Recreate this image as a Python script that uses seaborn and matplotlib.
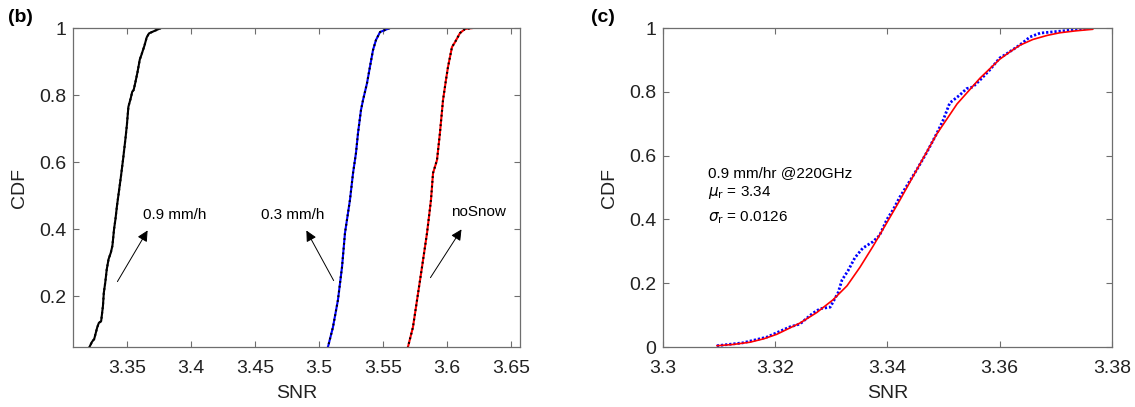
import numpy as np
import pandas as pd
import matplotlib
matplotlib.use('Agg')
import matplotlib.pyplot as plt
import seaborn as sns

# --- data ---
# 0.9 mm/hr @220GHz measured CDF (used in both panels)
snr_09 = [3.3096, 3.3142, 3.3185, 3.3226, 3.3244, 3.3267, 3.3280, 3.3298, 3.3312, 3.3319,
          3.3330, 3.3342, 3.3356, 3.3374, 3.3386, 3.3399, 3.3410, 3.3422, 3.3452, 3.3470,
          3.3488, 3.3499, 3.3511, 3.3529, 3.3541, 3.3552, 3.3565, 3.3582, 3.3600, 3.3613,
          3.3636, 3.3654, 3.3672, 3.3707, 3.3766]
cdf_09 = [0.004, 0.013, 0.031, 0.063, 0.072, 0.106, 0.120, 0.125, 0.170, 0.210,
          0.240, 0.280, 0.310, 0.330, 0.350, 0.400, 0.430, 0.470, 0.555, 0.610,
          0.670, 0.710, 0.765, 0.790, 0.810, 0.815, 0.837, 0.868, 0.906, 0.920,
          0.947, 0.972, 0.984, 0.990, 1.000]

# fitted curve in panel (c)
snr_fit = [3.3096, 3.3125, 3.3155, 3.3180, 3.3203, 3.3244, 3.3274, 3.3303, 3.3328, 3.3351,
           3.3374, 3.3399, 3.3422, 3.3452, 3.3488, 3.3524, 3.3565, 3.3600, 3.3618, 3.3636,
           3.3659, 3.3685, 3.3707, 3.3735, 3.3766]
cdf_fit = [0.004, 0.008, 0.015, 0.026, 0.040, 0.075, 0.108, 0.148, 0.192, 0.250,
           0.315, 0.390, 0.460, 0.555, 0.668, 0.762, 0.843, 0.902, 0.925, 0.946,
           0.964, 0.977, 0.985, 0.991, 0.996]

# 0.3 mm/h
snr_03 = [3.5050, 3.5070, 3.5109, 3.5148, 3.5180, 3.5203, 3.5242, 3.5266, 3.5289, 3.5305,
          3.5328, 3.5344, 3.5375, 3.5398, 3.5422, 3.5445, 3.5477, 3.5555]
cdf_03 = [0.030, 0.048, 0.107, 0.188, 0.287, 0.388, 0.487, 0.567, 0.627, 0.687,
          0.755, 0.785, 0.835, 0.884, 0.934, 0.964, 0.988, 1.000]

# noSnow
snr_ns = [3.5680, 3.5695, 3.5734, 3.5766, 3.5805, 3.5844, 3.5875, 3.5891, 3.5922, 3.5945,
          3.5969, 3.5992, 3.6008, 3.6039, 3.6063, 3.6102, 3.6141, 3.6203]
cdf_ns = [0.030, 0.048, 0.107, 0.188, 0.287, 0.388, 0.487, 0.567, 0.606, 0.687,
          0.785, 0.845, 0.884, 0.943, 0.958, 0.985, 0.997, 1.000]

xticks_b = [3.35, 3.40, 3.45, 3.50, 3.55, 3.60, 3.65]
xlabels_b = ['3.35', '3.4', '3.45', '3.5', '3.55', '3.6', '3.65']
yticks_b = [0.2, 0.4, 0.6, 0.8, 1.0]
ylabels_b = ['0.2', '0.4', '0.6', '0.8', '1']
xticks_c = [3.30, 3.32, 3.34, 3.36, 3.38]
xlabels_c = ['3.3', '3.32', '3.34', '3.36', '3.38']
yticks_c = [0, 0.2, 0.4, 0.6, 0.8, 1.0]
ylabels_c = ['0', '0.2', '0.4', '0.6', '0.8', '1']

sns.set_style('ticks')
plt.rcParams['font.family'] = ['Liberation Sans', 'DejaVu Sans']
plt.rcParams['xtick.direction'] = 'in'
plt.rcParams['ytick.direction'] = 'in'

TXT = '#222222'
SPINE = '#6e6e6e'

fig = plt.figure(figsize=(11.35, 4.07), dpi=100)
ax_b = fig.add_axes([0.0643, 0.1474, 0.3938, 0.7838])
ax_c = fig.add_axes([0.5841, 0.1474, 0.3956, 0.7838])

df_09 = pd.DataFrame({'SNR': snr_09, 'CDF': cdf_09})
df_fit = pd.DataFrame({'SNR': snr_fit, 'CDF': cdf_fit})
df_03 = pd.DataFrame({'SNR': snr_03, 'CDF': cdf_03})
df_ns = pd.DataFrame({'SNR': snr_ns, 'CDF': cdf_ns})

# --- panel (b) ---
for df, col in [(df_09, 'black'), (df_03, 'blue'), (df_ns, 'red')]:
    sns.lineplot(data=df, x='SNR', y='CDF', ax=ax_b, color=col, lw=1.5,
                 sort=False, estimator=None)
    sns.lineplot(data=df, x='SNR', y='CDF', ax=ax_b, color='black', lw=1.5,
                 sort=False, estimator=None)
    ax_b.lines[-1].set_dashes([0.9, 1.4])

arrow = dict(arrowstyle='-|>', color='black', lw=0.7, mutation_scale=16)
ax_b.annotate('', xy=(3.3672, 0.403), xytext=(3.3414, 0.236), arrowprops=arrow)
ax_b.annotate('', xy=(3.4891, 0.403), xytext=(3.5125, 0.239), arrowprops=arrow)
ax_b.annotate('', xy=(3.6125, 0.406), xytext=(3.5859, 0.248), arrowprops=arrow)
ax_b.text(3.3625, 0.442, '0.9 mm/h', fontsize=11, va='center', color='black')
ax_b.text(3.4547, 0.442, '0.3 mm/h', fontsize=11, va='center', color='black')
ax_b.text(3.6031, 0.451, 'noSnow', fontsize=11, va='center', color='black')

ax_b.set_xlim(3.3078, 3.657)
ax_b.set_ylim(0.048, 1.0)
ax_b.set_xticks(xticks_b)
ax_b.set_xticklabels(xlabels_b)
ax_b.set_yticks(yticks_b)
ax_b.set_yticklabels(ylabels_b)

# --- panel (c) ---
sns.lineplot(data=df_09, x='SNR', y='CDF', ax=ax_c, color='blue', lw=2.0,
             sort=False, estimator=None)
ax_c.lines[-1].set_dashes([0.8, 0.7])
sns.lineplot(data=df_fit, x='SNR', y='CDF', ax=ax_c, color='red', lw=1.2,
             sort=False, estimator=None)
ax_c.text(3.308, 0.545, '0.9 mm/hr @220GHz', fontsize=11, va='center', color='black')
ax_c.text(3.308, 0.483, r'$\mu_{\rm r}$ = 3.34', fontsize=11, va='center', color='black')
ax_c.text(3.308, 0.404, r'$\sigma_{\rm r}$ = 0.0126', fontsize=11, va='center', color='black')

ax_c.set_xlim(3.30, 3.38)
ax_c.set_ylim(0, 1)
ax_c.set_xticks(xticks_c)
ax_c.set_xticklabels(xlabels_c)
ax_c.set_yticks(yticks_c)
ax_c.set_yticklabels(ylabels_c)

for ax in (ax_b, ax_c):
    for s in ax.spines.values():
        s.set_visible(True)
        s.set_color(SPINE)
        s.set_linewidth(0.9)
    ax.tick_params(which='both', top=True, right=True, length=4, width=0.8,
                   color=SPINE, labelsize=14, labelcolor=TXT)
    ax.tick_params(axis='x', pad=9)
    ax.tick_params(axis='y', pad=5)
    ax.set_xlabel('SNR', fontsize=14, color=TXT)
    ax.set_ylabel('CDF', fontsize=14, color=TXT)
    ax.xaxis.set_label_coords(0.5, -0.12)
    ax.yaxis.set_label_coords(-0.10, 0.5)

fig.text(20 / 1135, 1 - 17 / 407, '(b)', fontsize=14, fontweight='bold',
         ha='center', va='center', color='black')
fig.text(603 / 1135, 1 - 17 / 407, '(c)', fontsize=14, fontweight='bold',
         ha='center', va='center', color='black')

fig.savefig('out.png', dpi=100)
